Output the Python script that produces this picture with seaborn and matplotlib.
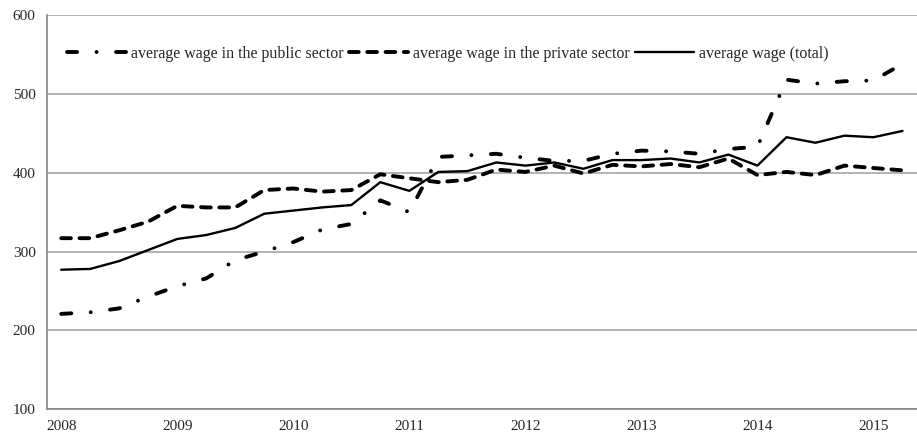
import numpy as np
import pandas as pd
import matplotlib
matplotlib.use("Agg")
import matplotlib.pyplot as plt
import seaborn as sns

# quarterly data, 2008Q1 - 2015Q2
years = ["2008", "2009", "2010", "2011", "2012", "2013", "2014", "2015"]
quarters = [f"{y}Q{q}" for y in years for q in range(1, 5)][:30]

public_wage = [221, 223, 228, 243, 256, 266, 289, 300, 312, 328, 335, 365,
               350, 420, 422, 424, 419, 415, 415, 424, 428, 427, 424, 430,
               433, 518, 513, 516, 517, 538]
private_wage = [317, 317, 327, 338, 358, 356, 356, 378, 380, 376, 378, 398,
                393, 388, 391, 404, 401, 409, 399, 410, 408, 411, 407, 418,
                397, 401, 397, 409, 406, 403]
total_wage = [277, 278, 288, 302, 316, 321, 330, 348, 352, 356, 359, 388,
              377, 401, 402, 413, 409, 413, 405, 416, 416, 418, 413, 423,
              409, 445, 438, 447, 445, 453]

labels = ["average wage in the public sector",
          "average wage in the private sector",
          "average wage (total)"]
y_ticks = [100, 200, 300, 400, 500, 600]

sns.set_style("white")
plt.rcParams["font.family"] = ["Liberation Serif", "DejaVu Serif"]

df = pd.DataFrame({
    "pos": np.arange(len(quarters)),
    "public": public_wage,
    "private": private_wage,
    "total": total_wage,
})

fig = plt.figure(figsize=(9.17, 4.37), dpi=100)
ax = fig.add_axes([46.7 / 917, 27.7 / 437, 1 - 46.7 / 917, 394.3 / 437])

sns.lineplot(data=df, x="pos", y="public", ax=ax, color="black", lw=2.8,
             linestyle=(0, (2.6, 5.0, 0.01, 5.0)), dash_capstyle="round",
             label=labels[0])
sns.lineplot(data=df, x="pos", y="private", ax=ax, color="black", lw=2.8,
             linestyle=(0, (2.5, 2.2)), dash_capstyle="round",
             label=labels[1])
sns.lineplot(data=df, x="pos", y="total", ax=ax, color="black", lw=1.7,
             label=labels[2])

ax.set_xlim(-0.5, 29.25)
ax.set_ylim(100, 600)
ax.set_yticks(y_ticks)
ax.set_yticklabels([str(v) for v in y_ticks], fontsize=11)
ax.yaxis.grid(True, color="#a6a6a6", lw=1.2)
ax.set_axisbelow(True)

# tick marks between categories, year labels centred on first quarter
ax.set_xticks(np.arange(-0.5, 29.6, 1.0))
ax.set_xticklabels([])
ax.set_xticks(np.arange(0, 30, 4), minor=True)
ax.set_xticklabels(years, minor=True, fontsize=11)
ax.tick_params(axis="x", which="major", direction="out", length=5,
               color="#868686", width=1)
ax.tick_params(axis="x", which="minor", length=0, pad=8)
ax.tick_params(axis="y", direction="out", length=4, color="#868686",
               width=1, pad=4)
ax.set_xlabel("")
ax.set_ylabel("")

for side in ["top", "right"]:
    ax.spines[side].set_visible(False)
for side in ["left", "bottom"]:
    ax.spines[side].set_color("#868686")
    ax.spines[side].set_linewidth(1.2)

handles, labs = ax.get_legend_handles_labels()
ax.legend(handles, labs, loc="center left", ncol=3, frameon=False,
          bbox_to_anchor=(67 / 917, 1 - 54 / 437),
          bbox_transform=fig.transFigure, borderaxespad=0, borderpad=0,
          handlelength=3.7, handletextpad=0.3, columnspacing=0.35,
          prop={"size": 11.5})

fig.savefig("out.png", dpi=100)
